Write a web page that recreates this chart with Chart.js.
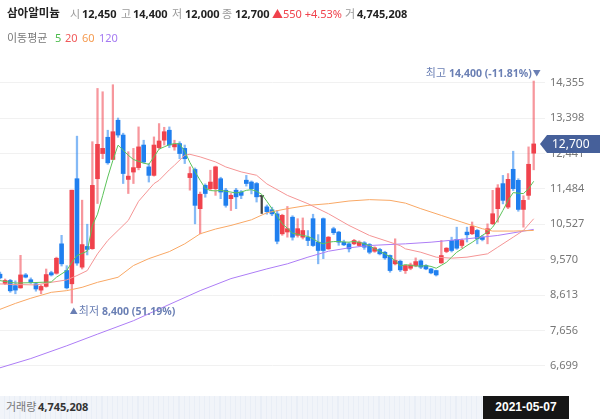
<!DOCTYPE html>
<html>
<head>
<meta charset="utf-8">
<script src="https://cdn.jsdelivr.net/npm/chart.js@4.4.0/dist/chart.umd.min.js"></script>
<style>
  body { margin: 0; background: #fff; font-family: "Noto Sans", "Noto Sans CJK KR", sans-serif; }
  #wrap { position: relative; width: 600px; height: 419px; overflow: hidden; }
  #c { position: absolute; left: 0; top: 0; }
  .t { position: absolute; white-space: nowrap; line-height: 1; font-size: 11px; }
  .b { font-weight: bold; color: #222; }
  .g { color: #999; }
  #vol { position: absolute; left: 0; top: 396px; width: 483px; height: 23px;
         background: repeating-linear-gradient(90deg, #f1f4f9 0px, #f1f4f9 4px, #e9eef6 4px, #e9eef6 5.13px); }
  #date { position: absolute; left: 483px; top: 396px; width: 86px; height: 23px; background: #161616;
          color: #fff; font: bold 12px "Liberation Sans", sans-serif; text-align: center; line-height: 23px; }
</style>
</head>
<body>
<div id="wrap">
  <canvas id="c" width="600" height="419"></canvas>

  <div class="t b" style="left:7px;top:7px;font-size:11.5px">삼아알미늄</div>
  <div class="t g" style="left:70px;top:8px">시</div>
  <div class="t b" style="left:82px;top:8px">12,450</div>
  <div class="t g" style="left:121px;top:8px">고</div>
  <div class="t b" style="left:133px;top:8px">14,400</div>
  <div class="t g" style="left:172px;top:8px">저</div>
  <div class="t b" style="left:185px;top:8px">12,000</div>
  <div class="t g" style="left:222px;top:8px">종</div>
  <div class="t b" style="left:235px;top:8px">12,700</div>
  <div class="t" style="left:272px;top:8px;color:#f0424c">▲550 +4.53%</div>
  <div class="t g" style="left:345px;top:8px">거</div>
  <div class="t b" style="left:357px;top:8px">4,745,208</div>

  <div class="t" style="left:7px;top:32px;color:#777">이동평균</div>
  <div class="t" style="left:55px;top:32px;color:#4cbb4c">5</div>
  <div class="t" style="left:65px;top:32px;color:#f05a5a">20</div>
  <div class="t" style="left:82px;top:32px;color:#f59b50">60</div>
  <div class="t" style="left:99px;top:32px;color:#a57bf2">120</div>

  <div id="vol"></div>
  <div class="t g" style="left:6px;top:401px;color:#777">거래량</div>
  <div class="t b" style="left:38px;top:401px;color:#333">4,745,208</div>
  <div id="date">2021-05-07</div>
</div>

<script>
// daily candles, oldest first (last one = 2021-05-07)
var opens  = [9180, 8930, 9010, 8870, 8810, 9160, 9030, 8920, 8750, 8850,
              9220, 9205, 10000, 9280, 8920, 11760, 9370, 9930, 9870, 11760,
              12440, 12880, 12280, 13340, 12940, 11740, 11940, 12060, 12670, 12080,
              11850, 12600, 12800, 13070, 12620, 12710, 12580, 11790, 12010, 10950,
              11580, 11490, 11490, 11760, 11450, 11220, 11450, 11400, 11720, 11670,
              11630, 11280, 11000, 10920, 10810, 10270, 10320, 10720, 10230, 10180,
              10180, 10680, 10045, 10680, 9865, 10408, 10317, 10045, 10000, 10000,
              9955, 10027, 9982, 9800, 9847, 9773, 9685, 9460, 9530, 9278,
              9340, 9413, 9540, 9413, 9322, 9278, 9486, 9793, 10091, 10118,
              9955, 10317, 10272, 10362, 10180, 10272, 10544, 10950, 11627, 10992,
              12015, 11717, 10930, 11310, 12450];
var highs  = [9240, 9050, 9040, 9000, 9690, 9200, 9080, 8960, 8890, 9320,
              9260, 9640, 10230, 9410, 11450, 12910, 11180, 10530, 12760, 14200,
              14110, 13070, 14300, 13400, 12990, 12490, 12580, 13160, 12800, 12170,
              12890, 13250, 13150, 13160, 12800, 12760, 12670, 12080, 12050, 11400,
              11620, 11990, 12100, 11800, 11500, 11360, 11500, 11440, 11850, 11700,
              11660, 11300, 11050, 10990, 10900, 10800, 11010, 10760, 10680, 10700,
              10360, 10800, 10250, 10700, 10200, 10450, 10340, 10100, 10030, 10120,
              10080, 10060, 10010, 9920, 9880, 9800, 9700, 10136, 9560, 9420,
              9480, 9620, 9570, 9440, 9340, 9290, 10091, 9900, 10180, 10450,
              10130, 10450, 10590, 10390, 10230, 10540, 11446, 11600, 11850, 11899,
              12503, 11760, 11300, 12620, 14400];
var lows   = [9050, 8900, 8690, 8650, 8800, 9080, 8930, 8720, 8650, 8830,
              9130, 9180, 9400, 8780, 8400, 9420, 9320, 9700, 9850, 11090,
              12300, 12150, 12280, 12880, 11630, 11360, 11630, 12000, 12180, 11670,
              11830, 12560, 12670, 12600, 12530, 12300, 12170, 11450, 10540, 10270,
              11260, 11450, 11310, 11220, 10990, 10900, 10950, 11220, 11560, 11350,
              11130, 10820, 10800, 10760, 10000, 10230, 10180, 10100, 10180, 10130,
              9950, 9930, 9460, 9600, 9850, 10250, 9960, 9950, 9780, 9980,
              9930, 9850, 9730, 9770, 9700, 9580, 9232, 9430, 9250, 9200,
              9300, 9380, 9330, 9300, 9190, 9130, 9470, 9760, 9780, 9850,
              9890, 10050, 10250, 10000, 10080, 10000, 10520, 10586, 11080, 10950,
              11440, 10880, 10450, 11200, 12000];
var closes = [9080, 9010, 8730, 8750, 9160, 9100, 8960, 8780, 8850, 9170,
              9160, 9610, 9460, 8810, 11450, 9480, 9980, 9850, 11580, 12690,
              12580, 12190, 13030, 12940, 11900, 11830, 12060, 12620, 12210, 11850,
              12670, 12780, 13030, 12670, 12690, 12440, 12300, 11900, 11040, 11340,
              11360, 11670, 12080, 11400, 11040, 11310, 11270, 11310, 11630, 11490,
              11270, 11280, 10870, 10810, 10070, 10770, 10410, 10180, 10410, 10360,
              10090, 9955, 9820, 9820, 10180, 10300, 10045, 9973, 9865, 10091,
              10045, 9910, 9773, 9892, 9730, 9620, 9278, 9549, 9296, 9413,
              9430, 9520, 9370, 9322, 9215, 9160, 9684, 9882, 9820, 9882,
              10091, 10245, 10470, 10136, 10118, 10408, 10814, 11509, 11175, 11744,
              11492, 10930, 11175, 12150, 12700];

// moving averages: [candle index, price]
var ma5 = [[0, 9006], [3, 8940], [6, 8950], [10, 8970], [11, 9097], [13, 9277], [14, 9502], [15, 9684],
           [17, 9800], [18, 10497], [19, 10800], [20, 11300], [21, 11806], [22, 12259], [23, 12666],
           [24, 12530], [25, 12395], [26, 12278], [27, 12230], [28, 12180], [29, 12150], [30, 12350],
           [31, 12560], [32, 12620], [33, 12680], [34, 12710], [35, 12700], [36, 12500], [37, 12200],
           [38, 11950], [39, 11717], [40, 11500], [41, 11440], [42, 11430], [43, 11446], [44, 11420],
           [45, 11400], [46, 11373], [47, 11400], [48, 11446], [49, 11464], [50, 11420], [51, 11338],
           [52, 11150], [53, 10950], [54, 10750], [55, 10543], [56, 10420], [57, 10289], [58, 10260],
           [59, 10227], [60, 10200], [61, 10136], [62, 10050], [63, 10000], [64, 10045], [65, 10060],
           [66, 10064], [67, 10050], [68, 10045], [69, 10064], [70, 10040], [71, 10000], [72, 9950],
           [73, 9865], [74, 9800], [75, 9730], [76, 9650], [77, 9549], [78, 9400], [79, 9440],
           [80, 9413], [81, 9400], [82, 9400], [83, 9410], [84, 9390], [85, 9340], [86, 9420],
           [87, 9502], [88, 9640], [89, 9773], [90, 9860], [91, 9955], [92, 10040], [93, 10136],
           [94, 10230], [95, 10317], [96, 10450], [97, 10650], [98, 10904], [99, 11175], [100, 11384],
           [101, 11370], [102, 11357], [103, 11492], [104, 11690]];
var ma20 = [[0, 8917], [3, 8900], [7, 8890], [10, 8960], [13, 9025], [15, 9142], [17, 9277], [19, 9730],
            [21, 10091], [23, 10362], [25, 10633], [27, 11150], [30, 11627], [31, 11717], [33, 12000],
            [34, 12124], [36, 12395], [37, 12420], [39, 12350], [42, 12214], [44, 12078], [47, 11944],
            [50, 11853], [52, 11620], [56, 11310], [60, 11085], [64, 10814], [68, 10497], [72, 10227],
            [76, 10045], [78, 9950], [79, 9865], [82, 9773], [85, 9640], [88, 9613], [91, 9640],
            [95, 9730], [97, 9910], [100, 10180], [102, 10362], [104, 10678]];
var ma60 = [[0, 8230], [3, 8390], [6, 8530], [10, 8690], [13, 8735], [16, 8825], [19, 8960], [23, 9097],
            [26, 9413], [29, 9600], [33, 9790], [36, 10000], [39, 10272], [42, 10400], [45, 10497],
            [49, 10650], [52, 10840], [56, 10950], [60, 11040], [64, 11085], [68, 11157], [72, 11194],
            [76, 11175], [79, 11100], [82, 10950], [86, 10768], [90, 10586], [94, 10408], [96, 10345],
            [100, 10345], [104, 10362]];
var ma120 = [[0, 6650], [6, 6900], [13, 7245], [19, 7560], [26, 7922], [32, 8300], [39, 8735], [45, 9060],
             [52, 9323], [56, 9460], [60, 9640], [64, 9800], [68, 9892], [72, 9955], [76, 9982],
             [79, 10000], [84, 10045], [91, 10136], [97, 10227], [104, 10390]];

var tickVals = [6699, 7656, 8613, 9570, 10527, 11484, 12441, 13398, 14355];

var RED = '#f0424c', BLUE = '#1f7fef', GRAY = '#444';
var RED_W = 'rgba(240,66,76,0.55)', BLUE_W = 'rgba(31,127,239,0.55)';

function bodyColor(i) {
  if (closes[i] > opens[i]) return RED;
  if (closes[i] < opens[i]) return BLUE;
  return GRAY;
}
function wickColor(i) {
  if (closes[i] > opens[i]) return RED_W;
  if (closes[i] < opens[i]) return BLUE_W;
  return GRAY;
}
function pts(arr) { return arr.map(function (p) { return {x: p[0], y: p[1]}; }); }
function fmt(v) { return v.toLocaleString('en-US'); }

var idx = opens.map(function (_, i) { return i; });

function maLine(data, color) {
  return { type: 'line', data: pts(data), borderColor: color, borderWidth: 1,
           pointRadius: 0, tension: 0, order: 0, fill: false };
}

// price tag, highest / lowest marks
var marks = {
  id: 'marks',
  afterDraw: function (chart) {
    var ctx = chart.ctx, xs = chart.scales.x, ys = chart.scales.y;
    var last = closes[closes.length - 1];
    var hiV = Math.max.apply(null, highs), hiI = highs.indexOf(hiV);
    var loV = Math.min.apply(null, lows), loI = lows.indexOf(loV);
    var fam = '"Noto Sans", "Noto Sans CJK KR", sans-serif';
    ctx.save();

    // current price tag
    var y = ys.getPixelForValue(last);
    ctx.fillStyle = '#46609a';
    ctx.beginPath();
    ctx.moveTo(540, y);
    ctx.lineTo(547, y - 9);
    ctx.lineTo(600, y - 9);
    ctx.lineTo(600, y + 9);
    ctx.lineTo(547, y + 9);
    ctx.closePath();
    ctx.fill();
    ctx.fillStyle = '#fff';
    ctx.font = '12px ' + fam;
    ctx.textBaseline = 'middle';
    ctx.textAlign = 'left';
    ctx.fillText(fmt(last), 552, y + 0.5);

    // highest
    var pct = ((last - hiV) / hiV * 100).toFixed(2);
    var hx = xs.getPixelForValue(hiI) + 7, hy = ys.getPixelForValue(hiV) - 7;
    ctx.fillStyle = '#6a7fb4';
    ctx.textAlign = 'right';
    ctx.font = '8px ' + fam;
    ctx.fillText('▼', hx, hy);
    hx -= 9;
    ctx.font = 'bold 10.5px ' + fam;
    var s = fmt(hiV) + ' (' + pct + '%)';
    ctx.fillText(s, hx, hy);
    hx -= ctx.measureText(s).width + 3;
    ctx.font = '11px ' + fam;
    ctx.fillText('최고', hx, hy);

    // lowest
    var lp = ((last - loV) / loV * 100).toFixed(2);
    var lx = xs.getPixelForValue(loI) - 2, ly = ys.getPixelForValue(loV) + 9;
    ctx.textAlign = 'left';
    ctx.font = '8px ' + fam;
    ctx.fillText('▲', lx, ly);
    lx += 9;
    ctx.font = '11px ' + fam;
    ctx.fillText('최저', lx, ly);
    lx += ctx.measureText('최저').width + 3;
    ctx.font = 'bold 10.5px ' + fam;
    ctx.fillText(fmt(loV) + ' (' + lp + '%)', lx, ly);
    ctx.restore();
  }
};

Chart.defaults.font.family = '"Noto Sans", "Noto Sans CJK KR", sans-serif';

new Chart(document.getElementById('c'), {
  type: 'bar',
  data: {
    datasets: [
      maLine(ma5, '#5cc35a'),
      maLine(ma20, '#f59595'),
      maLine(ma60, '#f9a865'),
      maLine(ma120, '#ad7df6'),
      {
        data: idx.map(function (i) { return {x: i, y: [opens[i], closes[i]]}; }),
        backgroundColor: idx.map(bodyColor),
        barThickness: 4, minBarLength: 1, grouped: false, order: 1
      },
      {
        data: idx.map(function (i) { return {x: i, y: [lows[i], highs[i]]}; }),
        backgroundColor: idx.map(wickColor),
        barThickness: 1.6, grouped: false, order: 2
      }
    ]
  },
  options: {
    responsive: false,
    animation: false,
    layout: { padding: { top: 60, bottom: 23, left: 0, right: 0 } },
    plugins: { legend: { display: false }, tooltip: { enabled: false } },
    scales: {
      x: { type: 'linear', min: 0, max: 106.2, offset: false, display: false },
      y: {
        position: 'right', min: 5888, max: 14968,
        afterBuildTicks: function (s) { s.ticks = tickVals.map(function (v) { return {value: v}; }); },
        afterFit: function (s) { s.width = 55; },
        grid: { color: '#f1f1f1', drawTicks: false },
        border: { display: false },
        ticks: { padding: 5, color: '#777', font: { size: 11 },
                 callback: function (v) { return fmt(v); } }
      }
    }
  },
  plugins: [marks]
});
</script>
</body>
</html>
